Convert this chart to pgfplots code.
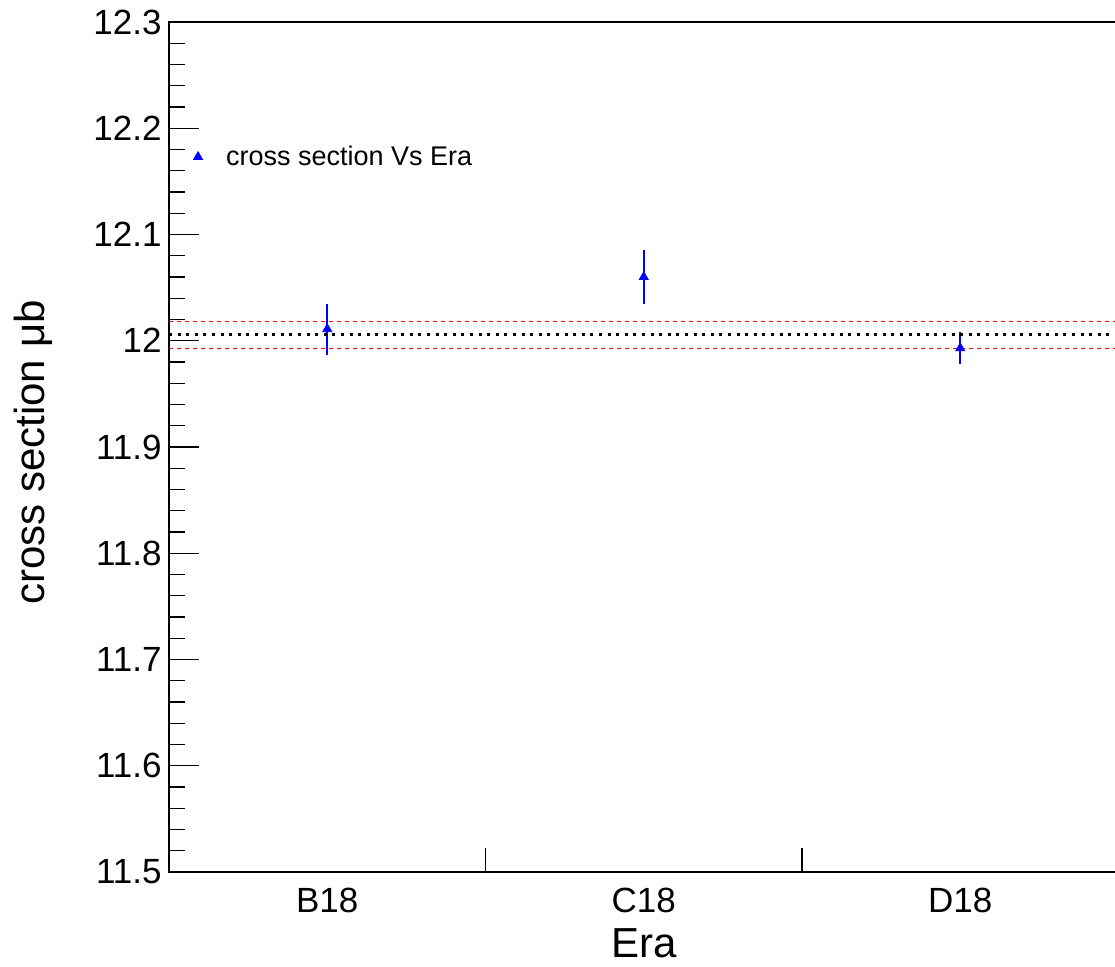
\documentclass[border=0pt]{standalone}
\usepackage{pgfplots}
\pgfplotsset{compat=1.18}
\usepackage{fontspec}
\setmainfont{Liberation Sans}
\pgfplotstableread{
x y ey
0.5 12.011 0.024
1.5 12.060 0.025
2.5 11.993 0.015
}\xsdata
\begin{document}
\begin{tikzpicture}
\path[use as bounding box] (0,0) rectangle (557.5pt,483pt);
\begin{axis}[
  at={(84.5pt,47pt)}, anchor=south west,
  scale only axis, width=474.75pt, height=425pt,
  xmin=0, xmax=3, ymin=11.5, ymax=12.3,
  axis line style={line width=0.6pt, black},
  ytick={11.5,11.6,11.7,11.8,11.9,12,12.1,12.2,12.3},
  minor y tick num=4,
  ytick pos=left, xtick pos=bottom,
  major tick length=15pt, minor tick length=8pt,
  tick style={line width=0.6pt, black},
  xtick={0.5,1.5,2.5}, xticklabels={B18,C18,D18},
  major x tick style={draw=none},
  extra x ticks={1,2}, extra x tick labels={},
  extra x tick style={major tick length=12pt, major x tick style={draw=black}},
  /pgf/number format/assume math mode=true,
  ticklabel style={font=\fontsize{17.5}{20}\selectfont},
  yticklabel style={anchor=east, inner sep=0pt, xshift=-3.5pt},
  xticklabel style={anchor=base, inner sep=0pt, yshift=-20.15pt},
  xlabel={Era},
  xlabel style={at={(axis description cs:0.5,0)}, anchor=base, yshift=-42.8pt, inner sep=0pt, text depth=0pt, font=\fontsize{21}{25}\selectfont},
  ylabel={cross section μb},
  ylabel style={at={(axis description cs:-0.1316,0.4935)}, anchor=base, font=\fontsize{21}{25}\selectfont},
  legend style={draw=none, fill=none, at={(axis cs:0.0773,12.173)}, anchor=west,
    inner sep=0pt, outer sep=0pt, column sep=0pt, row sep=0pt,
    nodes={inner sep=0pt}, font=\fontsize{13.5}{16}\selectfont},
  legend image code/.code={\path[draw=none] (-2.3pt,0pt) (14pt,0pt); \draw[#1] plot coordinates {(0pt,0pt)};},
]
\addplot[blue, only marks, mark=triangle*, mark size=2.6pt,
  error bars/.cd, y dir=both, y explicit, error mark=none,
  error bar style={draw=blue, line width=0.8pt}]
  table[x=x, y=y, y error=ey] {\xsdata};
\addlegendentry{cross section Vs Era}
\addplot[black, line width=1.5pt, dash pattern=on 1.5pt off 2.8pt, forget plot] coordinates {(0,12.0057) (3,12.0057)};
\addplot[red, line width=0.6pt, dash pattern=on 2pt off 2pt, forget plot] coordinates {(0,12.0182) (3,12.0182)};
\addplot[red, line width=0.6pt, dash pattern=on 2pt off 2pt, forget plot] coordinates {(0,11.9930) (3,11.9930)};
\end{axis}
\end{tikzpicture}
\end{document}
